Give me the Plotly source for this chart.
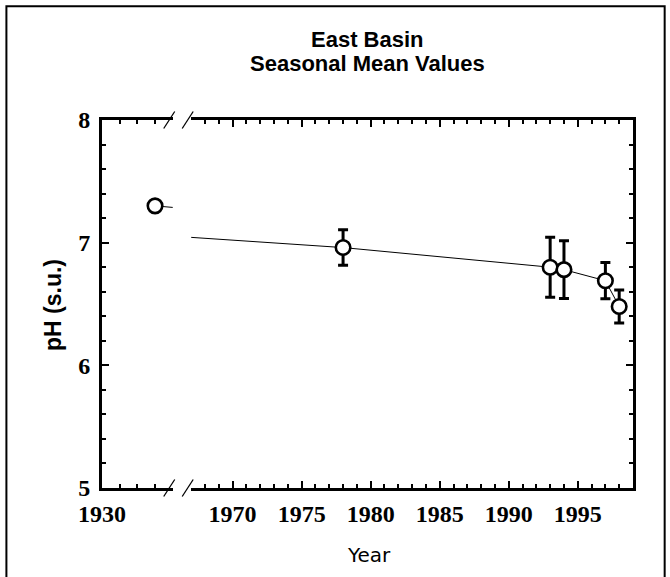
import plotly.graph_objects as go

# ---- data ----
years = [1933, 1978, 1993, 1994, 1997, 1998]
ph = [7.30, 6.96, 6.80, 6.78, 6.69, 6.48]
ph_err = [None, 0.145, 0.245, 0.235, 0.148, 0.135]

right_ticks = [1970, 1975, 1980, 1985, 1990, 1995]
left_ticks = [1930]
y_ticks = [5, 6, 7, 8]

title_lines = ["East Basin", "Seasonal Mean Values"]
x_title = "Year"
y_title = "pH (s.u.)"

# ---- layout geometry (pixels) ----
W, H = 670, 577
L, R, T, B = 101.7, 633.3, 119.5, 488.0
PW, PH = R - L, B - T


def px(xp):
    return (xp - L) / PW


def py(yp):
    return (B - yp) / PH


left_dom = [0, px(172.5)]
right_dom = [px(191.0), 1]

marker = dict(symbol="circle", size=14.5, color="white",
              line=dict(color="black", width=2.6))
err = dict(type="data", array=ph_err, visible=True, color="black",
           thickness=3, width=5)

fig = go.Figure()
for xa, ya in [("x", "y"), ("x2", "y2")]:
    fig.add_trace(go.Scatter(
        x=years, y=ph, mode="lines+markers", xaxis=xa, yaxis=ya,
        line=dict(color="black", width=1), marker=marker, error_y=err,
        showlegend=False, cliponaxis=True))

tickfont = dict(family="Liberation Serif", size=24, color="black", weight="bold")
axis_common = dict(showgrid=False, zeroline=False, showline=True,
                   linecolor="black", linewidth=3, ticks="inside",
                   tickcolor="black", tickwidth=2, ticklen=7,
                   tickfont=tickfont)
minor_common = dict(ticks="inside", ticklen=4, tickwidth=2, tickcolor="black")

fig.update_layout(
    width=W, height=H,
    margin=dict(l=L, r=W - R, t=T, b=H - B, pad=0),
    paper_bgcolor="white", plot_bgcolor="white",
    xaxis=dict(domain=left_dom, range=[1930, 1934], anchor="y",
               tickmode="array", tickvals=left_ticks,
               ticktext=[str(v) for v in left_ticks],
               mirror="ticks", ticklabelstandoff=2,
               minor=dict(dtick=1, tick0=1930, **minor_common),
               **axis_common),
    xaxis2=dict(domain=right_dom, range=[1967, 1999], anchor="y2",
                tickmode="array", tickvals=right_ticks,
                ticktext=[str(v) for v in right_ticks],
                mirror="ticks", ticklabelstandoff=2,
                minor=dict(dtick=1, tick0=1967, **minor_common),
                **axis_common),
    yaxis=dict(domain=[0, 1], range=[5, 8], anchor="x",
               tickmode="array", tickvals=y_ticks,
               ticktext=[str(v) for v in y_ticks], ticklabelstandoff=4,
               minor=dict(dtick=0.2, tick0=5, **minor_common),
               **axis_common),
    yaxis2=dict(domain=[0, 1], range=[5, 8], anchor="x2", side="right",
                matches="y", showticklabels=False,
                tickmode="array", tickvals=y_ticks,
                minor=dict(dtick=0.2, tick0=5, **minor_common),
                **axis_common),
)

# titles
title_font = dict(family="Liberation Sans", size=22, color="black", weight="bold")
fig.add_annotation(text=title_lines[0], xref="paper", yref="paper",
                   x=0.5, y=py(38.6), showarrow=False, font=title_font,
                   xanchor="center", yanchor="middle")
fig.add_annotation(text=title_lines[1], xref="paper", yref="paper",
                   x=0.5, y=py(63.0), showarrow=False, font=title_font,
                   xanchor="center", yanchor="middle")
fig.add_annotation(text=y_title, xref="paper", yref="paper",
                   x=px(52), y=py(304.4), showarrow=False, textangle=-90,
                   font=dict(family="Liberation Sans", size=23, color="black",
                             weight="bold"),
                   xanchor="center", yanchor="middle")
fig.add_annotation(text=x_title, xref="paper", yref="paper",
                   x=px(369), y=py(555), showarrow=False,
                   font=dict(family="DejaVu Sans", size=20, color="black"),
                   xanchor="center", yanchor="middle")

# axis-break slashes and outer frame
shapes = []
for yc in (T, B):
    for xc in (169.0, 187.5):
        shapes.append(dict(type="line", xref="paper", yref="paper",
                           x0=px(xc - 5.5), y0=py(yc + 8.5),
                           x1=px(xc + 5.5), y1=py(yc - 8.5),
                           line=dict(color="black", width=1.3)))
shapes.append(dict(type="rect", xref="paper", yref="paper",
                   x0=px(6), y0=py(585), x1=px(665), y1=py(5.5),
                   line=dict(color="black", width=2), fillcolor="rgba(0,0,0,0)"))
fig.update_layout(shapes=shapes)

fig.write_html("out.html")
